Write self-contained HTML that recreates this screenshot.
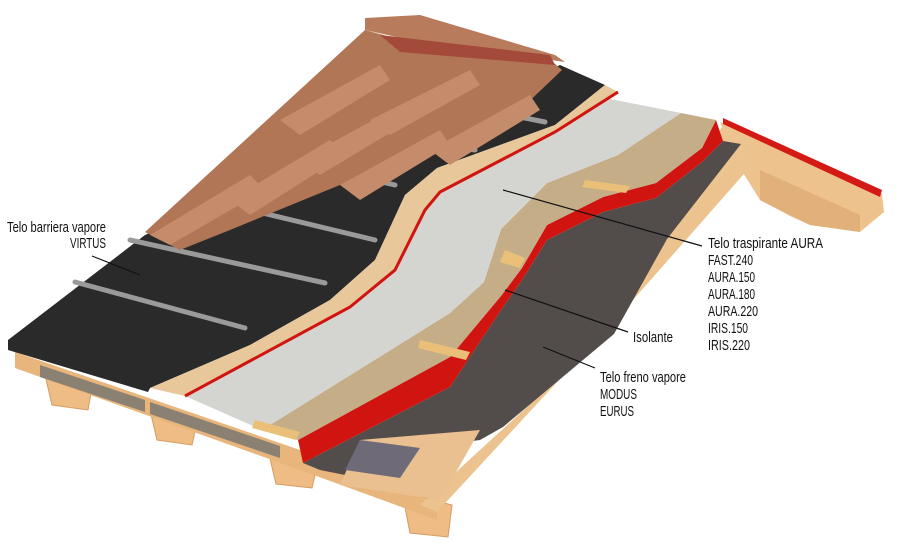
<!DOCTYPE html>
<html><head><meta charset="utf-8"><style>html,body{margin:0;padding:0;background:#fff}svg{display:block}</style></head><body>
<svg width="900" height="550" viewBox="0 0 900 550" xmlns="http://www.w3.org/2000/svg">
<defs>
<linearGradient id="wd" x1="0" y1="0" x2="1" y2="1"><stop offset="0" stop-color="#f2d3a4"/><stop offset="1" stop-color="#e6b47a"/></linearGradient>
</defs>
<g fill="#eebc84" stroke="#d59d63" stroke-width="1">
<polygon points="45,375 92,388 88,410 52,405"/>
<polygon points="150,410 197,422 192,445 157,440"/>
<polygon points="268,450 318,462 312,488 276,484"/>
<polygon points="402,492 452,505 448,537 410,533"/>
</g>
<polygon points="15,352 300,450 437,505 437,520 300,470 15,368" fill="#e8b57c"/>
<polygon points="40,365 145,400 145,412 40,377" fill="#8a8172"/>
<polygon points="150,402 280,446 280,458 150,414" fill="#8a8172"/>
<polygon points="720,122 882,194 884,212 860,232 810,225 790,216 760,200 735,160" fill="#eec28c"/>
<polygon points="760,170 860,215 860,232 810,225 760,200" fill="#e2b07a"/>
<polygon points="723,125 765,150 633,300 437,512 420,505 600,340" fill="url(#wd)"/>
<polygon points="723,118 882,190 880,197 723,124" fill="#d41a14"/>
<polygon points="723,141 741,144 667,239 614,334 503,427 480,440 420,448 360,478 320,470 303,463 450,387 501,310 522,280 547,240 603,212 656,198 702,162" fill="#524c4a"/>
<polygon points="360,440 480,430 440,500 340,485" fill="#eac090"/>
<polygon points="360,440 420,448 400,478 345,470" fill="#6e6a78"/>
<polygon points="716,120 723,141 702,162 656,198 603,212 547,240 522,280 501,310 450,387 303,463 298,440 450,357 501,296 522,268 547,225 603,197 656,183 702,148" fill="#d0140f"/>
<polygon points="681,113 716,120 702,148 656,183 603,197 547,225 522,268 501,296 450,357 298,440 262,430 450,313 484,282 501,229 547,183 618,155" fill="#c5ad88"/>
<polygon points="605,98 681,113 618,155 547,183 501,229 484,282 450,313 262,430 185,396 350,307 395,270 425,210 440,192 555,132" fill="#d4d4d0"/>
<polygon points="8,340 145,235 300,170 440,120 560,65 605,85 555,125 437,168 405,195 375,260 330,300 250,345 150,388 148,392 8,350" fill="#2a2a2a"/>
<polygon points="605,85 618,92 555,132 440,192 425,210 395,270 350,307 185,396 150,388 250,345 330,300 375,260 405,195 437,168 555,125" fill="#e8c79a"/>
<polyline points="618,92 555,132 440,192 425,210 395,270 350,307 185,396" fill="none" stroke="#d0140f" stroke-width="3"/>
<g stroke="#9a9a9a" stroke-width="5" stroke-linecap="round">
<line x1="75" y1="282" x2="245" y2="328"/>
<line x1="130" y1="240" x2="325" y2="283"/>
<line x1="250" y1="210" x2="375" y2="240"/>
<line x1="330" y1="170" x2="395" y2="185"/>
<line x1="430" y1="142" x2="475" y2="150"/>
<line x1="510" y1="115" x2="545" y2="122"/>
</g>
<polygon points="145,232 365,30 420,45 545,55 562,70 520,110 440,150 340,185 230,230 180,250" fill="#b07656"/>
<g fill="#c48c6a">
<polygon points="150,235 250,175 265,190 170,245"/>
<polygon points="230,200 330,140 345,155 250,215"/>
<polygon points="300,160 410,100 420,115 320,175"/>
<polygon points="370,120 470,70 480,85 390,135"/>
<polygon points="430,150 530,95 540,110 450,165"/>
<polygon points="340,185 440,130 450,145 360,200"/>
<polygon points="280,120 380,65 390,80 300,135"/>
</g>
<polygon points="365,18 420,15 555,55 565,62 410,40 365,30" fill="#b87c5c"/>
<polygon points="380,35 550,55 555,65 400,52" fill="#a34a3a"/>
<g fill="#eac078"><polygon points="505,250 525,258 520,268 500,262"/><polygon points="420,340 470,352 466,360 418,348"/><polygon points="255,420 300,432 296,440 252,428"/><polygon points="585,180 630,186 626,193 582,187"/></g>
<g stroke="#111" stroke-width="1.2" fill="none">
<line x1="92" y1="256" x2="140" y2="275"/>
<line x1="503" y1="190" x2="702" y2="246"/>
<line x1="505" y1="290" x2="628" y2="332"/>
<line x1="543" y1="347" x2="595" y2="368"/>
</g>
<g font-family="'Liberation Sans',sans-serif" font-size="14.5" fill="#111">
<text x="7" y="232" textLength="99" lengthAdjust="spacingAndGlyphs">Telo barriera vapore</text>
<text x="70" y="248" textLength="36" lengthAdjust="spacingAndGlyphs">VIRTUS</text>
<text x="708" y="248" textLength="115" lengthAdjust="spacingAndGlyphs">Telo traspirante AURA</text>
<text x="708" y="265" textLength="45" lengthAdjust="spacingAndGlyphs">FAST.240</text>
<text x="708" y="282" textLength="47" lengthAdjust="spacingAndGlyphs">AURA.150</text>
<text x="708" y="299" textLength="47" lengthAdjust="spacingAndGlyphs">AURA.180</text>
<text x="708" y="316" textLength="50" lengthAdjust="spacingAndGlyphs">AURA.220</text>
<text x="708" y="333" textLength="40" lengthAdjust="spacingAndGlyphs">IRIS.150</text>
<text x="708" y="350" textLength="42" lengthAdjust="spacingAndGlyphs">IRIS.220</text>
<text x="633" y="342" textLength="40" lengthAdjust="spacingAndGlyphs">Isolante</text>
<text x="600" y="382" textLength="86" lengthAdjust="spacingAndGlyphs">Telo freno vapore</text>
<text x="600" y="399" textLength="37" lengthAdjust="spacingAndGlyphs">MODUS</text>
<text x="600" y="416" textLength="34" lengthAdjust="spacingAndGlyphs">EURUS</text>
</g>
</svg>
</body></html>
